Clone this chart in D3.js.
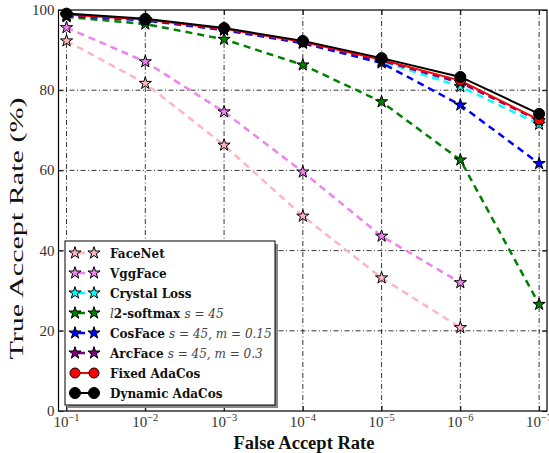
<!DOCTYPE html>
<html><head><meta charset="utf-8">
<script src="https://cdn.jsdelivr.net/npm/d3@7"></script>
<style>body{margin:0;background:#fff}svg{display:block}</style>
</head><body><svg id="c" width="549" height="453"></svg>
<script>
const farExps = [1,2,3,4,5,6,7];
const yTicks = [0,20,40,60,80,100];
const faceNet   = [92.3, 81.7, 66.3, 48.6, 33.2, 20.8];
const vggFace   = [95.6, 87.1, 74.6, 59.6, 43.6, 32.0];
const crystal   = [98.7, 97.5, 95.1, 91.9, 87.2, 80.9, 71.5];
const l2soft    = [98.3, 96.5, 92.7, 86.3, 77.1, 62.6, 26.6];
const cosFace   = [98.6, 97.4, 95.0, 91.7, 86.8, 76.3, 61.7];
const arcFace   = [98.8, 97.6, 95.2, 92.0, 87.4, 81.9, 72.4];
const fixedAda  = [98.9, 97.6, 95.3, 92.1, 87.6, 82.4, 72.6];
const dynAda    = [99.1, 97.8, 95.5, 92.3, 88.0, 83.3, 74.1];

const series = [
  {name:"FaceNet", math:"", vals:faceNet, color:"#ffb6c1", type:"star"},
  {name:"VggFace", math:"", vals:vggFace, color:"#ee82ee", type:"star"},
  {name:"Crystal Loss", math:"", vals:crystal, color:"#00ffff", type:"star"},
  {name:"l2", math:"s = 45", vals:l2soft, color:"#008000", type:"star", l2:true},
  {name:"CosFace", math:"s = 45, m = 0.15", vals:cosFace, color:"#0000ff", type:"star"},
  {name:"ArcFace", math:"s = 45, m = 0.3", vals:arcFace, color:"#800080", type:"star"},
  {name:"Fixed AdaCos", math:"", vals:fixedAda, color:"#ff0000", type:"circle", r:5},
  {name:"Dynamic AdaCos", math:"", vals:dynAda, color:"#000000", type:"circle", r:5.5}
];

const svg = d3.select("#c");
const L=58.5, R=547, T=10, B=411;
const x = d3.scaleLinear().domain([0.898, 7.1]).range([L, R]);
const y = d3.scaleLinear().domain([0, 100]).range([B, T]);
const serif = "'DejaVu Serif', serif";
const tserif = "'Liberation Serif', 'Times New Roman', serif";

// grid
const g = svg.append("g");
g.selectAll(".gx").data(farExps).join("line")
  .attr("x1", d=>x(d)).attr("x2", d=>x(d)).attr("y1", T).attr("y2", B)
  .attr("stroke","#000").attr("stroke-width",0.8).attr("stroke-dasharray","5,2.5,1,2.5");
g.selectAll(".gy").data(yTicks.filter(d=>d>0&&d<100)).join("line")
  .attr("y1", d=>y(d)).attr("y2", d=>y(d)).attr("x1", L).attr("x2", R)
  .attr("stroke","#000").attr("stroke-width",0.8).attr("stroke-dasharray","5,2.5,1,2.5");

// axes
const xa = svg.append("g").attr("transform",`translate(0,${B})`).call(d3.axisBottom(x).tickValues(farExps).tickSize(-5).tickFormat(""));
xa.select(".domain").remove();
const xat = svg.append("g").attr("transform",`translate(0,${T})`).call(d3.axisTop(x).tickValues(farExps).tickSize(-5).tickFormat(""));
xat.select(".domain").remove();
const ya = svg.append("g").attr("transform",`translate(${L},0)`).call(d3.axisLeft(y).tickValues(yTicks).tickSize(-5).tickFormat(""));
ya.select(".domain").remove();
const yar = svg.append("g").attr("transform",`translate(${R},0)`).call(d3.axisRight(y).tickValues(yTicks).tickSize(-5).tickFormat(""));
yar.select(".domain").remove();
svg.selectAll(".tick line").attr("stroke","#000").attr("stroke-width",0.8);

// x tick labels
farExps.forEach(k=>{
  const t = svg.append("text").attr("x", x(k)).attr("y", B+16).attr("text-anchor","middle")
    .attr("font-family",tserif).attr("font-size",15).attr("fill","#333");
  t.append("tspan").text("10");
  t.append("tspan").attr("dy",-6).attr("font-size",10.5).text("\u2212"+k);
});
yTicks.forEach(v=>{
  svg.append("text").attr("x", L-4).attr("y", y(v)+5).attr("text-anchor","end")
    .attr("font-family",tserif).attr("font-size",15).attr("fill","#333").text(v);
});

// clip
svg.append("clipPath").attr("id","clip").append("rect").attr("x",L).attr("y",T-8).attr("width",R-L).attr("height",B-T+8);
const plot = svg.append("g").attr("clip-path","url(#clip)");
const line = d3.line().x((d,i)=>x(farExps[i])).y(d=>y(d));
const star = d3.symbol().type(d3.symbolStar).size(46);

series.forEach(s=>{
  plot.append("path").attr("d", line(s.vals)).attr("fill","none").attr("stroke",s.color)
    .attr("stroke-width", s.type==="star"?2.5:2)
    .attr("stroke-dasharray", s.type==="star"?"7,5":null);
});
series.forEach(s=>{
  s.vals.forEach((v,i)=>{
    if(s.type==="star"){
      svg.append("path").attr("d",star()).attr("transform",`translate(${x(farExps[i])},${y(v)})`)
        .attr("fill",s.color).attr("stroke","#000").attr("stroke-width",1);
    } else {
      svg.append("circle").attr("cx",x(farExps[i])).attr("cy",y(v)).attr("r",s.r)
        .attr("fill",s.color).attr("stroke","#000").attr("stroke-width",1);
    }
  });
});

// frame
svg.append("rect").attr("x",L).attr("y",T).attr("width",R-L).attr("height",B-T)
  .attr("fill","none").attr("stroke","#000").attr("stroke-width",1.2);

// legend
const lx=65, ly=241, lw=210, lh=164;
svg.append("rect").attr("x",lx+3).attr("y",ly+3).attr("width",lw).attr("height",lh).attr("fill","#888");
svg.append("rect").attr("x",lx).attr("y",ly).attr("width",lw).attr("height",lh).attr("fill","#fff").attr("stroke","#000").attr("stroke-width",1);
series.forEach((s,i)=>{
  const yy = ly+12+i*20;
  svg.append("line").attr("x1",75).attr("x2",94).attr("y1",yy).attr("y2",yy)
    .attr("stroke",s.color).attr("stroke-width",s.type==="star"?2.5:2)
    .attr("stroke-dasharray", s.type==="star"?"7,5":null).attr("stroke-dashoffset",-3);
  [75,94].forEach(mx=>{
    if(s.type==="star") svg.append("path").attr("d",star()).attr("transform",`translate(${mx},${yy})`)
        .attr("fill",s.color).attr("stroke","#000").attr("stroke-width",1);
    else svg.append("circle").attr("cx",mx).attr("cy",yy).attr("r",s.r).attr("fill",s.color).attr("stroke","#000").attr("stroke-width",1);
  });
  const t = svg.append("text").attr("x",110).attr("y",yy+4.5).attr("font-family",serif).attr("font-size",12).attr("fill","#111");
  if(s.l2){
    t.append("tspan").attr("font-style","italic").attr("fill","#444").text("l");
    t.append("tspan").attr("font-weight","bold").text("2-softmax ");
  } else {
    t.append("tspan").attr("font-weight","bold").text(s.name+(s.math?" ":""));
  }
  if(s.math) t.append("tspan").attr("font-style","italic").attr("fill","#444").text(s.math);
});

// axis titles
svg.append("text").attr("x",304).attr("y",448.5).attr("text-anchor","middle")
  .attr("font-family",tserif).attr("font-weight","bold").attr("font-size",18).attr("fill","#111")
  .attr("textLength",141).attr("lengthAdjust","spacingAndGlyphs").text("False Accept Rate");
svg.append("text").attr("transform",`translate(22.5,228.5) rotate(-90)`).attr("text-anchor","middle")
  .attr("font-family",tserif).attr("font-size",18.5).attr("fill","#111")
  .attr("textLength",262).attr("lengthAdjust","spacingAndGlyphs").text("True Accept Rate (%)");
</script></body></html>
